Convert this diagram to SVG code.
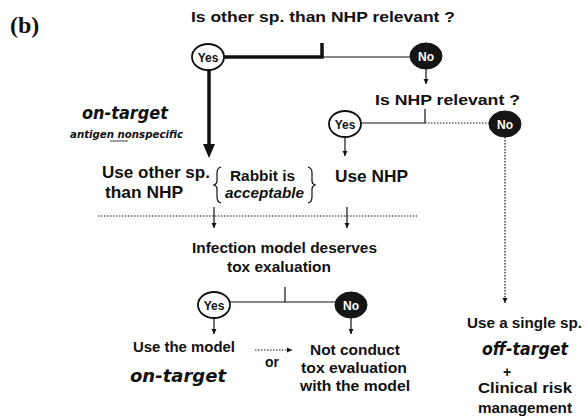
<svg xmlns="http://www.w3.org/2000/svg" width="585" height="417" viewBox="0 0 585 417">
<style>
.t{font-family:"Liberation Sans",Arial,sans-serif;font-weight:bold;fill:#111}
.h{font-size:15px}
.m{font-size:17px}
.s{font-size:14px;font-weight:bold}
.it{font-family:"DejaVu Sans","Liberation Sans",sans-serif;font-style:italic;font-weight:bold;fill:#111}
.yes{fill:#fff;stroke:#111;stroke-width:1.8}
.no{fill:#151515;stroke:#111;stroke-width:1}
.yt{font-family:"Liberation Sans",Arial,sans-serif;font-weight:bold;font-size:12px;fill:#111}
.nt{font-family:"Liberation Sans",Arial,sans-serif;font-weight:bold;font-size:12px;fill:#fff}
.ln{stroke:#111;stroke-width:1.2;fill:none}
.thick{stroke:#111;stroke-width:3.5;fill:none}
.dot{stroke:#111;stroke-width:1.2;fill:none;stroke-dasharray:1.5 1.5}
</style>
<defs>
<marker id="ah" markerWidth="6" markerHeight="6" refX="5" refY="3" orient="auto" markerUnits="userSpaceOnUse">
<path d="M0,0.5 L5,3 L0,5.5 Z" fill="#111"/>
</marker>
</defs>
<rect width="585" height="417" fill="#fff"/>

<text x="10" y="33" font-family="Liberation Serif,serif" font-weight="bold" font-size="24" fill="#111">(b)</text>

<g id="connectors">
  <path class="thick" d="M224,57 L322,57 L322,43"/>
  <path class="ln" d="M322,57 L410,57"/>
  <path class="thick" d="M209,70 L209,146"/>
  <path d="M203,144 L215,144 L209,158 Z" fill="#111"/>
  <path class="ln" d="M426,68 L426,84" marker-end="url(#ah)"/>
  <path class="ln" d="M425,109 L425,123 M361,123 L425,123"/>
  <path class="dot" d="M425,123 L489,123"/>
  <path class="dot" d="M505,137 L505,303" marker-end="url(#ah)"/>
  <path class="ln" d="M345,138 L345,156" marker-end="url(#ah)"/>
  <path class="dot" d="M98,216 L417,216"/>
  <path class="ln" d="M214,207 L214,228" marker-end="url(#ah)"/>
  <path class="ln" d="M347,207 L347,228" marker-end="url(#ah)"/>
  <path class="ln" d="M285,287 L285,302 M230,302 L335,302"/>
  <path class="ln" d="M214,318 L214,334" marker-end="url(#ah)"/>
  <path class="ln" d="M351,318 L351,334" marker-end="url(#ah)"/>
  <path class="dot" d="M255,350 L292,350" marker-end="url(#ah)"/>
</g>

<g id="q1">
  <text class="t h" x="191" y="22" textLength="264" lengthAdjust="spacingAndGlyphs">Is other sp. than NHP relevant ?</text>
</g>
<g id="yes1">
  <ellipse class="yes" cx="208" cy="57" rx="16" ry="13"/>
  <text class="yt" x="208" y="61.5" text-anchor="middle">Yes</text>
</g>
<g id="no1">
  <ellipse class="no" cx="426" cy="56" rx="16" ry="13"/>
  <text class="nt" x="426" y="60.5" text-anchor="middle">No</text>
</g>
<g id="q2">
  <text class="t h" x="375" y="105" textLength="145" lengthAdjust="spacingAndGlyphs">Is NHP relevant ?</text>
</g>
<g id="yes2">
  <ellipse class="yes" cx="345" cy="124" rx="16" ry="13"/>
  <text class="yt" x="345" y="128.5" text-anchor="middle">Yes</text>
</g>
<g id="no2">
  <ellipse class="no" cx="505" cy="124" rx="16" ry="13"/>
  <text class="nt" x="505" y="128.5" text-anchor="middle">No</text>
</g>

<g id="ontarget-left">
  <text class="it" x="82" y="119" font-size="17" textLength="86" lengthAdjust="spacingAndGlyphs">on-target</text>
  <text class="it" x="70" y="138" font-size="10.5" textLength="113" lengthAdjust="spacingAndGlyphs">antigen nonspecific</text>
  <line x1="110" y1="141" x2="128" y2="141" stroke="#111" stroke-width="0.8"/>
</g>

<g id="use-other">
  <text class="t m" x="102" y="178" textLength="108" lengthAdjust="spacingAndGlyphs">Use other sp.</text>
  <text class="t m" x="105" y="198" textLength="78" lengthAdjust="spacingAndGlyphs">than NHP</text>
</g>
<g id="rabbit">
  <path class="ln" d="M221,167 Q217,168 217,173 L217,181 Q217,184 214,185 Q217,186 217,189 L217,197 Q217,202 221,203"/>
  <text class="t" x="230" y="181" font-size="14" textLength="65" lengthAdjust="spacingAndGlyphs">Rabbit is</text>
  <text class="t" x="225" y="198" font-size="14" font-style="italic" textLength="79" lengthAdjust="spacingAndGlyphs">acceptable</text>
  <path class="ln" d="M308,167 Q312,168 312,173 L312,181 Q312,184 315,185 Q312,186 312,189 L312,197 Q312,202 308,203"/>
</g>
<g id="use-nhp">
  <text class="t m" x="335" y="182" textLength="73" lengthAdjust="spacingAndGlyphs">Use NHP</text>
</g>

<g id="infection">
  <text class="t s" x="192" y="253" textLength="185" lengthAdjust="spacingAndGlyphs">Infection model deserves</text>
  <text class="t s" x="227" y="272" textLength="104" lengthAdjust="spacingAndGlyphs">tox exaluation</text>
</g>
<g id="yes3">
  <ellipse class="yes" cx="214" cy="305" rx="16" ry="13"/>
  <text class="yt" x="214" y="309.5" text-anchor="middle">Yes</text>
</g>
<g id="no3">
  <ellipse class="no" cx="351" cy="305" rx="16" ry="13"/>
  <text class="nt" x="351" y="309.5" text-anchor="middle">No</text>
</g>
<g id="use-model">
  <text class="t s" x="133" y="352" textLength="102" lengthAdjust="spacingAndGlyphs">Use the model</text>
  <text class="it" x="130" y="382" font-size="18" textLength="96" lengthAdjust="spacingAndGlyphs">on-target</text>
</g>
<g id="or">
  <text class="t s" x="265" y="367">or</text>
</g>
<g id="not-conduct">
  <text class="t s" x="310" y="355" textLength="90" lengthAdjust="spacingAndGlyphs">Not conduct</text>
  <text class="t s" x="301" y="373" textLength="106" lengthAdjust="spacingAndGlyphs">tox evaluation</text>
  <text class="t s" x="300" y="391" textLength="110" lengthAdjust="spacingAndGlyphs">with the model</text>
</g>

<g id="single">
  <text class="t s" x="467" y="328" textLength="115" lengthAdjust="spacingAndGlyphs">Use a single sp.</text>
  <text class="it" x="482" y="355" font-size="18" textLength="86" lengthAdjust="spacingAndGlyphs">off-target</text>
  <text class="t s" x="507" y="377" text-anchor="middle">+</text>
  <text class="t s" x="478" y="393" textLength="94" lengthAdjust="spacingAndGlyphs">Clinical risk</text>
  <text class="t s" x="478" y="413" textLength="94" lengthAdjust="spacingAndGlyphs">management</text>
</g>
</svg>
